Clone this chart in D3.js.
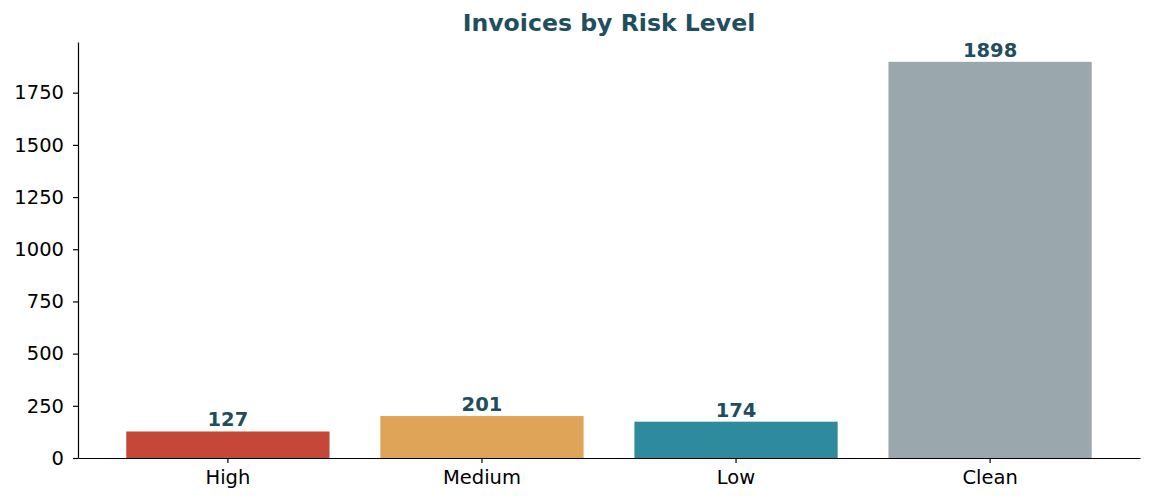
<!DOCTYPE html>
<html>
<head>
<meta charset="utf-8">
<style>
  body { margin: 0; background: #fff; }
  .chart { display: block; font-family: "DejaVu Sans", sans-serif; }
</style>
</head>
<body>
<div class="chartArea"></div>
<script src="https://cdn.jsdelivr.net/npm/d3@7"></script>
<script>
  // data
  const categories = ["High", "Medium", "Low", "Clean"];
  const counts = [127, 201, 174, 1898];
  const barColors = ["#c44737", "#e0a458", "#2e8b9e", "#9aa7ad"];
  const yTicks = [0, 250, 500, 750, 1000, 1250, 1500, 1750];
  const title = "Invoices by Risk Level";

  const width = 1153;
  const height = 503;
  const margin = { top: 42, right: 13, bottom: 45, left: 78 };
  const labelColor = "#1f4e5f";

  const svg = d3.select(".chartArea")
    .append("svg")
    .attr("class", "chart")
    .attr("width", width)
    .attr("height", height);

  const x = d3.scaleBand()
    .domain(categories)
    .range([margin.left, width - margin.right])
    .paddingInner(0.2)
    .paddingOuter(0.19);

  const y = d3.scaleLinear()
    .domain([0, d3.max(counts) * 1.05])
    .range([height - margin.bottom, margin.top]);

  // bars
  svg.selectAll("rect.bar")
    .data(counts)
    .enter()
    .append("rect")
    .attr("class", "bar")
    .attr("x", (d, i) => x(categories[i]))
    .attr("y", d => y(d))
    .attr("width", x.bandwidth())
    .attr("height", d => y(0) - y(d))
    .attr("fill", (d, i) => barColors[i]);

  // value labels above bars
  svg.selectAll("text.value")
    .data(counts)
    .enter()
    .append("text")
    .attr("class", "value")
    .attr("x", (d, i) => x(categories[i]) + x.bandwidth() / 2)
    .attr("y", d => y(d) - 5)
    .attr("text-anchor", "middle")
    .attr("font-size", "19.5px")
    .attr("font-weight", "bold")
    .attr("fill", labelColor)
    .text(d => d);

  // x axis
  const xAxis = svg.append("g")
    .attr("transform", `translate(0,${height - margin.bottom})`)
    .call(d3.axisBottom(x).tickSize(5).tickSizeOuter(0).tickPadding(7));

  // y axis
  const yAxis = svg.append("g")
    .attr("transform", `translate(${margin.left},0)`)
    .call(d3.axisLeft(y).tickValues(yTicks).tickFormat(d3.format("d"))
      .tickSize(5).tickSizeOuter(0).tickPadding(9));

  [xAxis, yAxis].forEach(g => {
    g.attr("font-family", "DejaVu Sans, sans-serif").attr("font-size", "19.5px");
    g.selectAll("text").attr("fill", "#000");
    g.selectAll("line").attr("stroke", "#000").attr("stroke-width", 1.2);
    g.select(".domain").attr("stroke", "#000").attr("stroke-width", 1.2);
  });

  // title
  svg.append("text")
    .attr("x", (margin.left + width - margin.right) / 2)
    .attr("y", 31)
    .attr("text-anchor", "middle")
    .attr("font-size", "23.6px")
    .attr("font-weight", "bold")
    .attr("fill", labelColor)
    .text(title);
</script>
</body>
</html>
